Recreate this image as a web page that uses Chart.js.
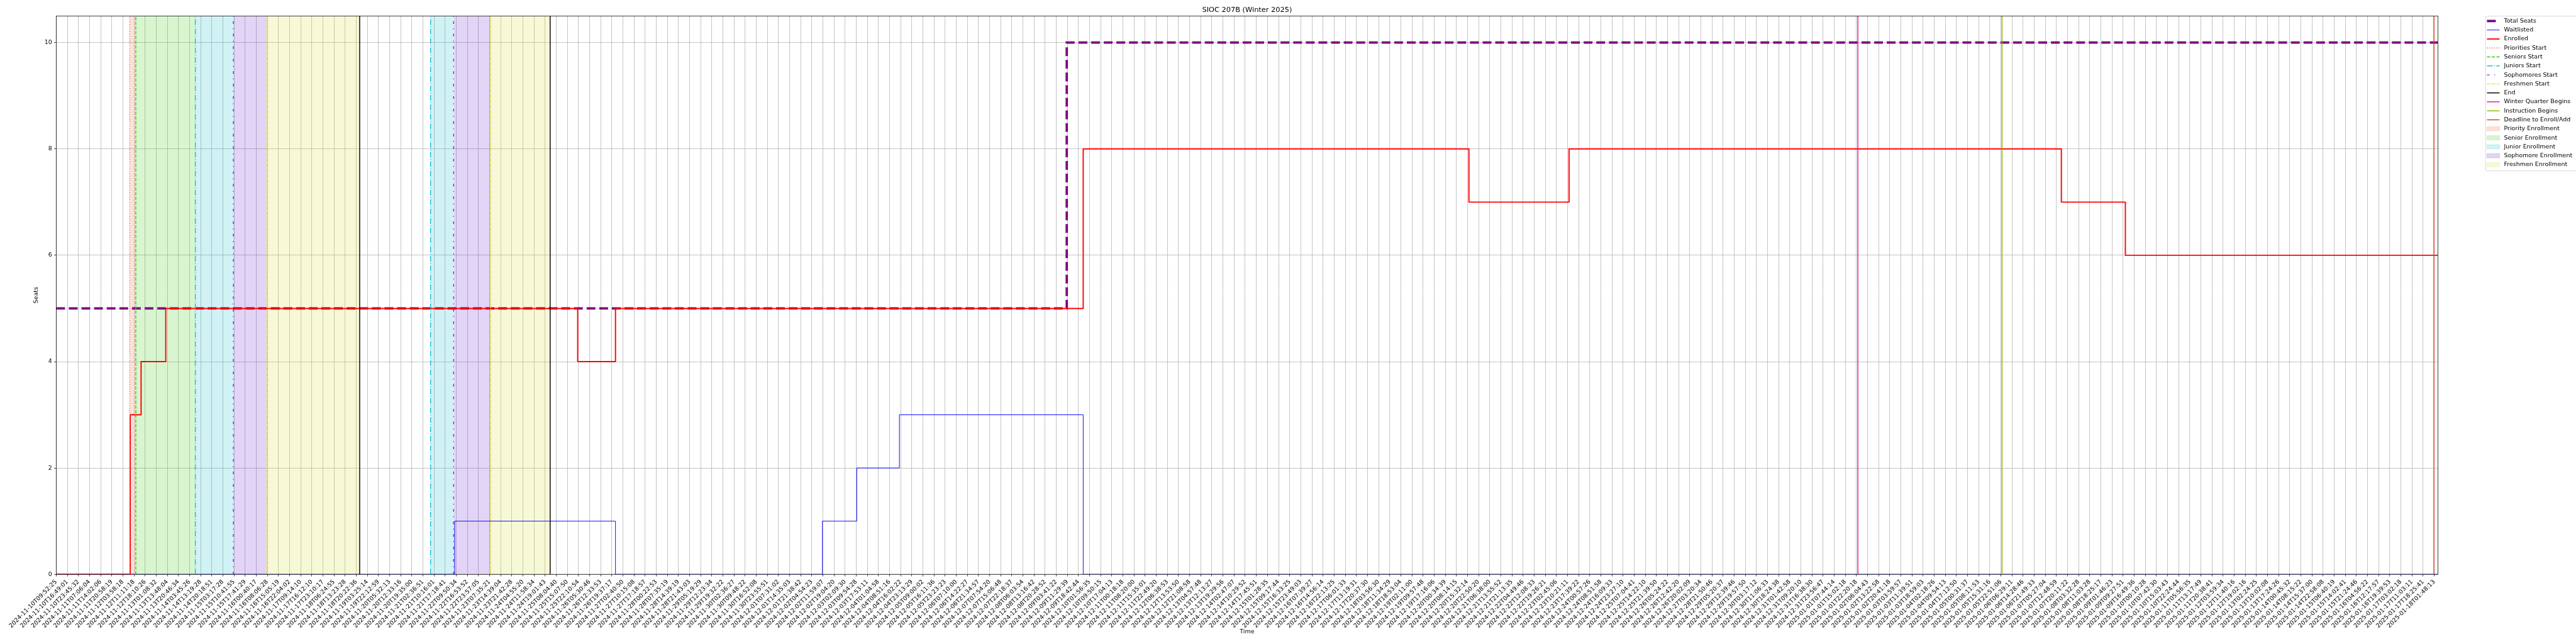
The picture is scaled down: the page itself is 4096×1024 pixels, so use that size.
<!DOCTYPE html>
<html>
<head>
<meta charset="utf-8">
<title>SIOC 207B (Winter 2025)</title>
<script src="https://cdn.jsdelivr.net/npm/chart.js@4.4.1/dist/chart.umd.min.js"></script>
<style>
  html, body { margin: 0; padding: 0; background: #fff; overflow: hidden; }
  #wrap { width: 4096px; height: 1024px; }
</style>
</head>
<body>
<div id="wrap"><canvas id="mycanvas" width="4096" height="1024"></canvas></div>
<script>
// whole picture is drawn at 0.682 of the 6000x1500 original
var S = 0.682;
var PT = 100 / 72 * S;          // one matplotlib point, in canvas px
var FONT = "'DejaVu Sans', sans-serif";

var chartTitle = "SIOC 207B (Winter 2025)";

// x tick labels, one per labelled sample
var tickLabels = [
  "2024-11-10T09:52:25", "2024-11-10T16:49:01", "2024-11-10T23:45:32", "2024-11-11T07:06:04",
  "2024-11-11T14:02:06", "2024-11-11T20:58:19", "2024-11-12T03:58:18", "2024-11-12T11:11:18",
  "2024-11-12T18:10:26", "2024-11-13T01:08:32", "2024-11-13T13:48:04", "2024-11-13T20:46:34",
  "2024-11-14T03:45:26", "2024-11-14T13:19:28", "2024-11-14T20:18:51", "2024-11-15T03:17:28",
  "2024-11-15T10:41:55", "2024-11-15T17:41:29", "2024-11-16T00:40:17", "2024-11-16T08:06:28",
  "2024-11-16T15:05:19", "2024-11-16T22:04:02", "2024-11-17T09:14:10", "2024-11-17T16:12:10",
  "2024-11-17T23:10:17", "2024-11-18T06:24:55", "2024-11-18T13:23:28", "2024-11-18T20:22:36",
  "2024-11-19T03:25:14", "2024-11-19T22:12:59", "2024-11-20T05:32:13", "2024-11-20T12:33:16",
  "2024-11-20T19:35:00", "2024-11-21T02:36:51", "2024-11-21T10:16:01", "2024-11-21T17:18:41",
  "2024-11-22T09:50:34", "2024-11-22T16:53:52", "2024-11-22T23:57:05", "2024-11-23T07:35:21",
  "2024-11-23T14:39:04", "2024-11-23T21:42:28", "2024-11-24T04:55:20", "2024-11-24T11:58:34",
  "2024-11-24T19:01:43", "2024-11-25T08:04:40", "2024-11-25T15:07:50", "2024-11-25T22:10:54",
  "2024-11-26T05:30:46", "2024-11-26T12:33:53", "2024-11-26T19:37:17", "2024-11-27T02:40:50",
  "2024-11-27T10:15:08", "2024-11-27T17:18:57", "2024-11-28T00:22:53", "2024-11-28T07:35:19",
  "2024-11-28T14:39:19", "2024-11-28T21:43:03", "2024-11-29T05:19:29", "2024-11-29T12:23:34",
  "2024-11-29T19:32:22", "2024-11-30T02:36:27", "2024-11-30T09:48:22", "2024-11-30T16:52:08",
  "2024-11-30T23:55:51", "2024-12-01T07:31:02", "2024-12-01T14:35:03", "2024-12-01T21:38:42",
  "2024-12-02T04:54:23", "2024-12-02T11:59:07", "2024-12-02T19:04:20", "2024-12-03T02:09:30",
  "2024-12-03T09:54:28", "2024-12-03T17:53:11", "2024-12-04T01:04:58", "2024-12-04T08:51:16",
  "2024-12-04T16:02:22", "2024-12-04T23:13:29", "2024-12-05T09:00:02", "2024-12-05T16:11:36",
  "2024-12-05T23:23:23", "2024-12-06T07:10:00", "2024-12-06T14:22:27", "2024-12-06T21:34:57",
  "2024-12-07T07:54:20", "2024-12-07T15:06:48", "2024-12-07T22:18:37", "2024-12-08T06:03:54",
  "2024-12-08T13:16:42", "2024-12-08T20:28:52", "2024-12-09T03:41:22", "2024-12-09T11:29:39",
  "2024-12-09T18:42:44", "2024-12-10T01:56:35", "2024-12-10T09:50:15", "2024-12-10T17:04:13",
  "2024-12-11T00:18:18", "2024-12-11T08:20:00", "2024-12-11T15:35:01", "2024-12-11T22:49:20",
  "2024-12-12T06:38:53", "2024-12-12T13:53:50", "2024-12-12T21:08:58", "2024-12-13T04:57:48",
  "2024-12-13T12:13:27", "2024-12-13T19:29:56", "2024-12-14T02:47:07", "2024-12-14T10:29:52",
  "2024-12-14T17:45:51", "2024-12-15T01:28:35", "2024-12-15T09:17:44", "2024-12-15T16:33:25",
  "2024-12-15T23:49:03", "2024-12-16T07:39:27", "2024-12-16T14:56:14", "2024-12-16T22:13:25",
  "2024-12-17T06:01:33", "2024-12-17T13:19:31", "2024-12-17T20:37:30", "2024-12-18T03:56:30",
  "2024-12-18T11:34:29", "2024-12-18T18:53:04", "2024-12-19T02:11:00", "2024-12-19T09:57:48",
  "2024-12-19T17:16:06", "2024-12-20T00:34:39", "2024-12-20T08:14:15", "2024-12-20T15:32:14",
  "2024-12-20T22:50:20", "2024-12-21T06:38:00", "2024-12-21T13:55:52", "2024-12-21T21:13:35",
  "2024-12-22T04:49:46", "2024-12-22T12:08:33", "2024-12-22T19:26:21", "2024-12-23T02:45:06",
  "2024-12-23T10:21:11", "2024-12-23T17:39:22", "2024-12-24T00:57:26", "2024-12-24T08:51:58",
  "2024-12-24T16:09:33", "2024-12-24T23:27:10", "2024-12-25T07:04:41", "2024-12-25T14:22:10",
  "2024-12-25T21:39:50", "2024-12-26T05:24:22", "2024-12-26T12:42:20", "2024-12-26T20:02:09",
  "2024-12-27T03:20:34", "2024-12-28T21:50:46", "2024-12-29T05:20:37", "2024-12-29T12:39:46",
  "2024-12-29T19:57:50", "2024-12-30T03:17:12", "2024-12-30T11:06:33", "2024-12-30T18:24:38",
  "2024-12-31T01:42:58", "2024-12-31T09:20:10", "2024-12-31T16:38:30", "2024-12-31T23:56:47",
  "2025-01-01T07:44:14", "2025-01-01T15:02:18", "2025-01-01T22:20:18", "2025-01-02T06:04:43",
  "2025-01-02T13:22:58", "2025-01-02T20:41:18", "2025-01-03T03:59:57", "2025-01-03T11:39:51",
  "2025-01-03T18:59:03", "2025-01-04T02:18:26", "2025-01-04T09:54:13", "2025-01-04T17:12:50",
  "2025-01-05T00:31:37", "2025-01-05T08:11:53", "2025-01-05T15:31:16", "2025-01-05T22:51:06",
  "2025-01-06T06:29:11", "2025-01-06T14:28:46", "2025-01-06T21:49:33", "2025-01-07T05:27:04",
  "2025-01-07T12:48:59", "2025-01-07T20:11:22", "2025-01-08T03:32:28", "2025-01-08T11:03:28",
  "2025-01-08T18:25:17", "2025-01-09T01:46:23", "2025-01-09T09:27:51", "2025-01-09T16:49:36",
  "2025-01-10T00:10:28", "2025-01-10T07:42:30", "2025-01-10T15:03:43", "2025-01-10T22:24:44",
  "2025-01-11T05:56:35", "2025-01-11T13:17:49", "2025-01-11T20:38:41", "2025-01-12T03:59:34",
  "2025-01-12T11:40:16", "2025-01-12T19:02:16", "2025-01-13T02:24:25", "2025-01-13T10:02:08",
  "2025-01-13T17:24:26", "2025-01-14T00:45:32", "2025-01-14T08:15:22", "2025-01-14T15:37:00",
  "2025-01-14T22:58:08", "2025-01-15T06:40:19", "2025-01-15T14:02:41", "2025-01-15T21:24:46",
  "2025-01-16T04:56:22", "2025-01-16T12:17:57", "2025-01-16T19:39:53", "2025-01-17T03:02:18",
  "2025-01-17T11:03:11", "2025-01-17T18:25:41", "2025-01-18T01:48:13"
];

// x positions are in tick units (tick i = tickLabels[i]); values change at each x
var xEnd = 214.33;
var seatsX = [0, 90.94, xEnd];
var seatsY = [5, 10, 10];
var waitlistX = [0, 35.86, 50.33, 68.95, 72.04, 75.88, 92.42, xEnd];
var waitlistY = [0, 1, 0, 1, 2, 3, 0, 0];
var enrolledX = [0, 6.66, 7.64, 9.86, 46.93, 50.33, 92.42, 127.13, 136.14, 180.44, 186.2, xEnd];
var enrolledY = [0, 3, 4, 5, 4, 5, 8, 7, 8, 7, 6, 6];

// vertical event lines
var eventNames = ["Priorities Start", "Seniors Start", "Juniors Start", "Sophomores Start",
  "Freshmen Start", "End", "Winter Quarter Begins", "Instruction Begins", "Deadline to Enroll/Add"];
var eventX = [[6.62], [7.16], [12.52, 33.69], [15.94, 35.76], [18.97, 39.09], [27.31, 44.45],
  [162.13], [175.1], [213.97]];
var eventColors = ["#f06a35", "#33cc14", "#17becf", "#7a2be0", "#dede2a", "#000000",
  "#e0109a", "#8cb400", "#d2401e"];
// dash patterns in multiples of the line width (matplotlib style)
var eventDash = [[1, 1.65], [3.7, 1.6], [6.4, 1.6, 1, 1.6], [3, 5, 1, 5], [3, 1, 1, 1], [], [], [], []];

// enrollment windows, shaded
var bandNames = ["Priority Enrollment", "Senior Enrollment", "Junior Enrollment",
  "Sophomore Enrollment", "Freshmen Enrollment"];
var bandStart = [[6.62], [7.16], [12.52, 33.69], [15.94, 35.76], [18.97, 39.09]];
var bandEnd = [[7.16], [12.52], [15.94, 35.76], [18.97, 39.09], [27.31, 44.45]];
var bandColors = ["rgba(230,110,60,0.2)", "rgba(60,205,20,0.2)", "rgba(23,190,207,0.2)",
  "rgba(110,40,210,0.2)", "rgba(215,220,50,0.2)"];

function pts(xs, ys) {
  var out = [];
  for (var i = 0; i < xs.length; i++) out.push({x: xs[i], y: ys[i]});
  return out;
}

var datasets = [];
datasets.push({label: "Total Seats", data: pts(seatsX, seatsY), stepped: true,
  borderColor: "#800080", borderWidth: 4 * PT, borderDash: [3.7 * 4 * PT, 1.6 * 4 * PT],
  pointRadius: 0, fill: false, order: 50});
datasets.push({label: "Waitlisted", data: pts(waitlistX, waitlistY), stepped: true,
  borderColor: "#0000ff", borderWidth: 1 * PT, pointRadius: 0, fill: false, order: 40});
datasets.push({label: "Enrolled", data: pts(enrolledX, enrolledY), stepped: true,
  borderColor: "#ff0000", borderWidth: 2 * PT, pointRadius: 0, fill: false, order: 30,
  borderJoinStyle: "round"});

for (var i = 0; i < eventNames.length; i++) {
  for (var j = 0; j < eventX[i].length; j++) {
    datasets.push({label: eventNames[i], data: [{x: eventX[i][j], y: 0}, {x: eventX[i][j], y: 10.5}],
      borderColor: eventColors[i], borderWidth: 1.5 * PT,
      borderDash: eventDash[i].map(function (d) { return d * 1.5 * PT; }),
      pointRadius: 0, fill: false, order: 20 - i});
  }
}
for (var b = 0; b < bandNames.length; b++) {
  for (var k = 0; k < bandStart[b].length; k++) {
    datasets.push({label: bandNames[b], data: [{x: bandStart[b][k], y: 10.5}, {x: bandEnd[b][k], y: 10.5}],
      borderWidth: 0, backgroundColor: bandColors[b], fill: "origin", pointRadius: 0, order: 100});
  }
}

// legend rows (drawn by hand so it sits where the original puts it)
var legendRows = [
  {label: "Total Seats", color: "#800080", lw: 4, dash: [3.7, 1.6]},
  {label: "Waitlisted", color: "#0000ff", lw: 1, dash: []},
  {label: "Enrolled", color: "#ff0000", lw: 2, dash: []}
];
for (var e = 0; e < eventNames.length; e++) {
  legendRows.push({label: eventNames[e], color: eventColors[e], lw: 1.5, dash: eventDash[e]});
}
for (var f = 0; f < bandNames.length; f++) {
  legendRows.push({label: bandNames[f], fill: bandColors[f]});
}

var framePlugin = {
  id: "frame",
  afterDatasetsDraw: function (chart) {
    var a = chart.chartArea, ctx = chart.ctx;
    ctx.save();
    ctx.strokeStyle = "#000";
    ctx.lineWidth = 0.8 * PT;
    ctx.strokeRect(a.left, a.top, a.right - a.left, a.bottom - a.top);
    ctx.restore();
  },
  afterDraw: function (chart) {
    var ctx = chart.ctx;
    var boxL = 5795 * S, boxT = 37.7 * S, boxB = 398.3 * S;
    var rowY0 = 49 * S, rowStep = 20.94 * S;
    var hx0 = 48.3 * S + 5750 * S, hx1 = 77.7 * S + 5750 * S, tx = 5838 * S;
    ctx.save();
    ctx.fillStyle = "rgba(255,255,255,0.8)";
    ctx.strokeStyle = "#cccccc";
    ctx.lineWidth = 0.8 * PT;
    ctx.beginPath();
    ctx.roundRect(boxL, boxT, 4200 - boxL, boxB - boxT, 2.5);
    ctx.fill();
    ctx.stroke();
    ctx.font = (10 * PT) + "px " + FONT;
    ctx.textBaseline = "middle";
    ctx.textAlign = "left";
    for (var r = 0; r < legendRows.length; r++) {
      var row = legendRows[r];
      var y = rowY0 + r * rowStep;
      if (row.fill) {
        var h = 0.7 * 10 * PT;
        ctx.fillStyle = row.fill;
        ctx.fillRect(hx0, y - h / 2, hx1 - hx0, h);
        ctx.strokeStyle = row.fill;
        ctx.lineWidth = 1 * PT;
        ctx.strokeRect(hx0, y - h / 2, hx1 - hx0, h);
      } else {
        ctx.strokeStyle = row.color;
        ctx.lineWidth = row.lw * PT;
        ctx.setLineDash(row.dash.map(function (d) { return d * row.lw * PT; }));
        ctx.beginPath();
        ctx.moveTo(hx0, y);
        ctx.lineTo(hx1, y);
        ctx.stroke();
        ctx.setLineDash([]);
      }
      ctx.fillStyle = "#000";
      ctx.fillText(row.label, tx, y);
    }
    ctx.restore();
  }
};

var ctx = document.getElementById("mycanvas");
var chart = new Chart(ctx, {
  type: "line",
  data: {datasets: datasets},
  options: {
    responsive: false,
    animation: false,
    devicePixelRatio: 1,
    events: [],
    layout: {padding: {left: 0, right: 4096 - 5684 * S, top: 0, bottom: 0}},
    plugins: {
      legend: {display: false},
      tooltip: {enabled: false},
      title: {
        display: true, text: chartTitle, fullSize: false, color: "#000",
        font: {family: FONT, size: 12 * PT, weight: "normal", lineHeight: 1.2},
        padding: {top: 23 * S - 6 * PT * 1.2, bottom: 37.3 * S - 23 * S - 6 * PT * 1.2}
      }
    },
    scales: {
      x: {
        type: "linear", min: 0, max: xEnd,
        afterBuildTicks: function (scale) {
          scale.ticks = tickLabels.map(function (t, i) { return {value: i}; });
        },
        afterFit: function (scale) { scale.height = 1024 - 1339 * S; },
        ticks: {
          autoSkip: false, minRotation: 45, maxRotation: 45, color: "#000",
          padding: 3.5 * PT, font: {family: FONT, size: 10 * PT},
          callback: function (v) { return tickLabels[v]; }
        },
        grid: {color: "#b0b0b0", lineWidth: 0.8 * PT, tickColor: "#000", tickLength: 3.5 * PT,
          tickWidth: 0.8 * PT},
        border: {display: false},
        title: {display: true, text: "Time", color: "#000", font: {family: FONT, size: 10 * PT},
          padding: {top: 0, bottom: 1024 - 1473 * S - 5 * PT * 1.2}}
      },
      y: {
        type: "linear", min: 0, max: 10.5,
        afterBuildTicks: function (scale) {
          scale.ticks = [0, 2, 4, 6, 8, 10].map(function (v) { return {value: v}; });
        },
        afterFit: function (scale) { scale.width = 131 * S; },
        ticks: {color: "#000", padding: 3.5 * PT, font: {family: FONT, size: 10 * PT}},
        grid: {color: "#b0b0b0", lineWidth: 0.8 * PT, tickColor: "#000", tickLength: 3.5 * PT,
          tickWidth: 0.8 * PT},
        border: {display: false},
        title: {display: true, text: "Seats", color: "#000", font: {family: FONT, size: 10 * PT},
          padding: {top: 84 * S - 5 * PT * 1.2, bottom: 0}}
      }
    }
  },
  plugins: [framePlugin]
});
</script>
</body>
</html>
